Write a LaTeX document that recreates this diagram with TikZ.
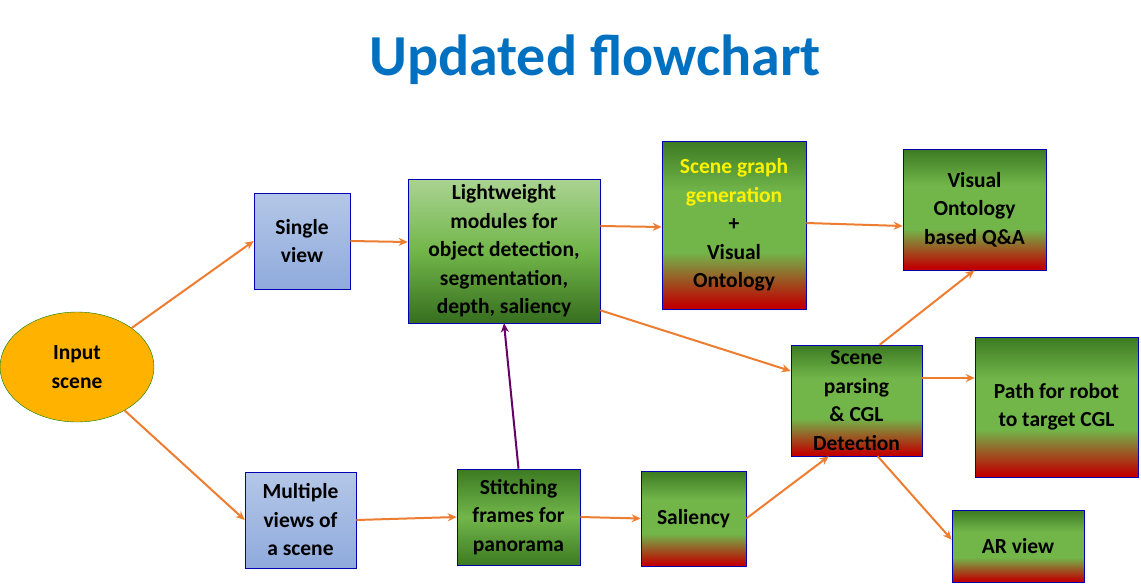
\documentclass[tikz,border=0pt]{standalone}
\usepackage{fontspec}
\setmainfont{Carlito}
\usetikzlibrary{arrows.meta,calc,shapes.geometric}
\definecolor{ora}{HTML}{ED7D31}
\definecolor{tblue}{HTML}{0070C0}
\definecolor{gA}{HTML}{3C7A22}
\definecolor{gB}{HTML}{72B64A}
\definecolor{rC}{HTML}{C00000}
\definecolor{bA}{HTML}{B4C7E7}
\definecolor{bB}{HTML}{8FAADC}
\pgfdeclareverticalshading{grsh}{100bp}{color(0bp)=(rC); color(26bp)=(rC); color(42bp)=(gB); color(60bp)=(gB); color(75bp)=(gA); color(100bp)=(gA)}
\pgfdeclareverticalshading{sgsh}{100bp}{color(0bp)=(gA); color(25bp)=(gA); color(50bp)=(gB); color(75bp)=(gA); color(100bp)=(gA)}
\pgfdeclareverticalshading{lgsh}{100bp}{color(0bp)=(gA); color(25bp)=(gA!90!black); color(50bp)=(gB); color(75bp)=(gB!60!white); color(100bp)=(gB!60!white)}
\begin{document}
\begin{tikzpicture}[x=1pt,y=-1pt,
 box/.style={draw=blue!70!black,line width=0.6pt,align=center,font=\bfseries\fontsize{21.5}{28.5}\selectfont,inner sep=1pt},
 bluebox/.style={box,top color=bA,bottom color=bB},
 lgbox/.style={box,shading=lgsh},
 sgbox/.style={box,shading=sgsh},
 grbox/.style={box,shading=grsh},
 arr/.style={ora,line width=2pt,-{Stealth[length=9pt,width=8pt]}},
 parr/.style={arr,draw=violet!80!black}]
\useasboundingbox (0,0) rectangle (1141,584);
\fill[white] (0,0) rectangle (1141,584);
\node[text=tblue,font=\bfseries\fontsize{58}{64}\selectfont] (title) at (595,60) {Updated flowchart};
\node[ellipse,draw=green!50!black,fill=orange!60!yellow,minimum width=154,minimum height=110,align=center,font=\bfseries\fontsize{21.5}{28.5}\selectfont] (in) at (77,367) {Input\\scene};
\node[bluebox,minimum width=96,minimum height=96] (sv) at (302,241) {Single\\view};
\node[bluebox,minimum width=111,minimum height=96] (mv) at (300.5,520) {Multiple\\views of\\a scene};
\node[lgbox,minimum width=192,minimum height=144] (lw) at (504,251) {Lightweight\\modules for\\object detection,\\segmentation,\\depth, saliency};
\node[sgbox,minimum width=123,minimum height=96] (st) at (518.5,517) {Stitching\\frames for\\panorama};
\node[grbox,minimum width=105,minimum height=95] (sal) at (693.5,518.5) {Saliency};
\node[grbox,minimum width=144,minimum height=168] (sg) at (734,225) {\textcolor{yellow}{Scene graph}\\\textcolor{yellow}{generation}\\+\\Visual\\Ontology};
\node[grbox,minimum width=143,minimum height=121] (vo) at (974.5,209.5) {Visual\\Ontology\\based Q\&A};
\node[grbox,minimum width=131,minimum height=111] (sp) at (856.5,400.5) {Scene\\parsing\\\& CGL\\Detection};
\node[grbox,minimum width=163,minimum height=140] (pr) at (1056.5,407) {Path for robot\\to target CGL};
\node[grbox,minimum width=132,minimum height=72] (ar) at (1018,546) {AR view};
\draw[arr] (in) -- (sv.west);
\draw[arr] (in) -- (mv.west);
\draw[arr] (sv.east) -- (lw.west |- 0,242);
\draw[arr] (mv.east) -- (st.west);
\draw[arr] (st.east) -- (sal.west);
\draw[parr] (st.north) -- (lw.south);
\draw[arr] (lw.east |- 0,226) -- (sg.west |- 0,227);
\draw[arr] (sg.east |- 0,223) -- (vo.west |- 0,226);
\draw[arr] ($(lw.south east)+(0,-13)$) -- (sp.west |- 0,371);
\draw[arr] (sal.east) -- ($(sp.south west)+(38,0)$);
\draw[arr] ($(sp.north west)+(89,0)$) -- ($(vo.south east)+(-72,0)$);
\draw[arr] (sp.east |- 0,378) -- (pr.west |- 0,378);
\draw[arr] ($(sp.south west)+(87,0)$) -- ($(ar.north west)+(0,30)$);
\end{tikzpicture}
\end{document}
